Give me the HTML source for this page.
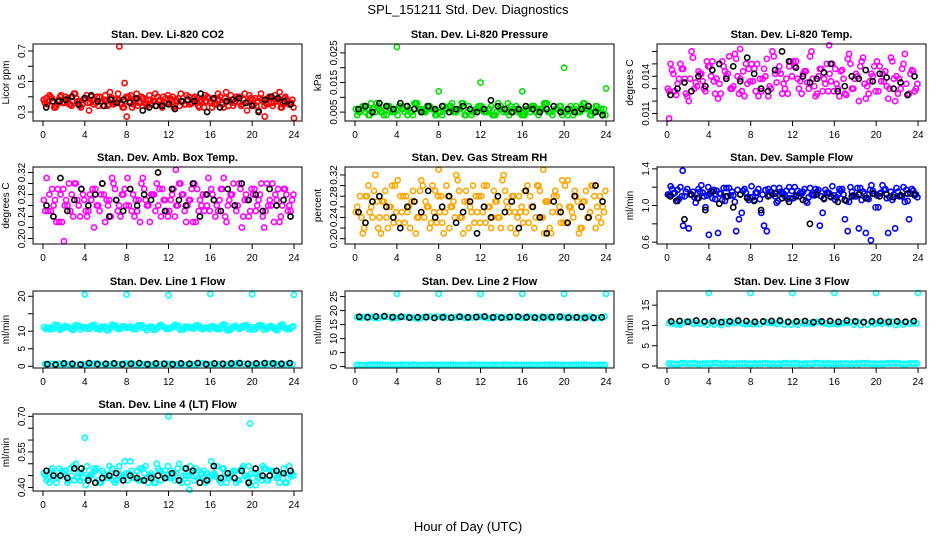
<!DOCTYPE html>
<html><head><meta charset="utf-8"><style>
body{margin:0;background:#fff}
svg{display:block;font-family:"Liberation Sans",sans-serif}
</style></head><body>
<svg id="c" width="936" height="540">
<text x="468" y="14" text-anchor="middle" font-size="13">SPL_151211  Std. Dev. Diagnostics</text>
<text x="468" y="531" text-anchor="middle" font-size="13">Hour of Day (UTC)</text>
</svg>
<script>
// ---- data ----
const xTicks=[0,4,8,12,16,20,24];
const co2Color=[38,35,40,33,37,41,36,39,34,42,37,35,39,31,38,36,40,34,37,43,35,38,36,33,39,41,37,34,40,36,38,35,42,37,33,39,36,40,38,34,37,41,35,39,36,38,33,40,37,35,42,36,39,34,38,37,40,35,36,41,38,34,39,37,35,40,36,38,33,39,37,36];
const co2Black=[33,37,37,38,40,35,39,41,37,34,38,36,38,36,39,31,33,34,34,35,32,37,38,37,42,30,39,33,37,38,39,36,34,30,38,40,39,37,35];
const co2Out=[[7.3,73],[7.8,49],[8,27],[21.2,27],[24,26]];
const presColor=[6,5,7,4,6,8,5,6,7,5,4,6,7,5,8,6,5,7,6,4,5,7,6,8,5,6,4,7,5,6,7,5,6,4,8,6,5,7,6,5,4,6,7,5,6,8,5,4,6,7,5,6,4,5,7,6,4,5,6,4];
const presBlack=[6,7,5,8,7,6,8,7,6,5,7,6,7,5,6,7,6,5,6,9,7,6,5,6,7,6,5,6,7,5,6,5,6,7,5,4];
const presOut=[[4,27],[8,12],[12,15],[16,12],[20,20],[24,13]];
const tempColor=[130,145,125,150,138,120,155,132,142,128,148,136,122,152,140,130,158,126,144,134,150,128,138,146,124,160,135,142,130,148,152,138,126,144,156,132,140,128,150,136,146,124,138,154,130,142,148,134,126,140,152,136,144,130,138,126,146,134,142,128];
const tempBlack=[125,130,135,128,140,132,145,150,138,148,136,155,142,130,128,145,160,152,147,140,135,138,143,150,128,132,140,138,145,136,142,139,130,135,125,140];
const tempOut=[[0.2,106],[15.5,165],[7,162]];
const ambColor=[27,25,29,23,28,26,30,24,27,29,25,28,22,26,30,27,24,29,26,28,31,25,27,23,29,26,28,30,24,27,25,29,26,28,23,27,30,25,28,26,29,24,27,31,26,28,25,29,27,24,28,26,30,25,27,23,29,26,28,25];
const ambBlack=[26,24,31,25,27,29,26,28,30,24,27,25,29,26,28,27,32,25,29,27,26,30,24,28,27,25,29,26,30,27,28,25,29,26,27,24];
const ambOut=[[2,19.5],[12.7,32.5]];
const rhColor=[25,28,22,30,24,27,21,29,26,23,31,25,28,22,27,24,30,26,23,29,25,21,28,26,32,24,27,22,30,25,28,23,26,29,24,31,27,22,25,28,23,30,26,24,29,21,27,25,28,23,30,26,24,27,22,29,25,28,24,26];
const rhBlack=[25,23,27,28,26,24,22,26,27,25,29,24,26,28,23,25,27,21,26,24,28,25,27,22,29,26,24,21,27,25,23,28,26,24,30,27];
const rhOut=[[8,33],[18,33]];
const flowColor=[112,118,105,120,110,75,115,108,122,98,113,117,70,106,119,111,104,85,116,109,121,114,107,78,118,112,103,115,110,120,108,116,113,105,119,111,117,92,114,109,106,118,112,72,115,110,119,113,107,116,111,114,118,109,112,115,110,117,113,111];
const flowBlack=[110,105,85,112,108,95,115,102,110,98,112,108,105,95,110,113,108,104,110,106,80,112,108,110,104,106,110,112,108,113,110,112,109,111,113,112];
const flowOut=[[1.5,138],[19.5,62],[4,68]];
const line1Hi=[11.2,10.6,11.8,10.4,11.5,10.9,11.7,10.5,11.1,11.6,10.7,11.3,10.3,11.9,10.8,11.4,11.0,10.6,11.7,10.9,11.2,10.4,11.5,11.1,10.7,11.8,10.5,11.3,10.9,11.6,10.8,11.0,11.4,10.6,11.7,10.3,11.2,10.9,11.5,10.7,11.1,11.6,10.5,11.3,10.8,11.4,11.0,10.6];
const line1Lo=[0.6,0.5,0.7,0.4,0.6,0.8,0.5,0.6,0.7,0.5,0.4,0.6,0.7,0.5,0.6,0.8,0.5,0.6,0.4,0.7,0.6,0.5,0.7,0.6];
const line1Black=[0.6,0.5,0.8,0.7,0.5,0.9,0.6,0.7,0.8,0.6,0.7,0.9,0.6,0.8,0.7,0.6,0.8,0.7,0.9,0.6,0.8,0.7,0.8,0.9,0.7,0.8,0.9,0.8,0.7,0.9];
const line1Out=[[4,20.5],[8,20.5],[12,20.3],[16,20.7],[20,20.6],[24,20.4]];
const line2Hi=[17.6,17.9,17.3,17.8,17.5,17.7,17.2,17.9,17.6,17.4,17.8,17.5,17.7,17.3,17.6,17.9,17.4,17.7,17.5,17.8,17.3,17.6,17.7,17.4];
const line2Lo=[0.6,0.5,0.7,0.6,0.5,0.6,0.7,0.5,0.6,0.6,0.5,0.7,0.6,0.5,0.6,0.7,0.6,0.5,0.6,0.7,0.5,0.6,0.6,0.5,0.7,0.6,0.5,0.6,0.7,0.6,0.5,0.6];
const line2Black=[17.8,17.6,17.9,18.0,17.7,17.8,17.5,17.6,17.7,17.4,17.6,17.5,17.8,17.6,17.7,17.9,17.6,17.5,17.7,17.8,17.6,17.5,17.6,17.7,17.8,17.5,17.6,17.4,17.5,17.6];
const line2Out=[[4,26],[8,26],[12,26],[16,26],[20,26],[24,26]];
const line3Hi=[10.6,10.2,10.9,10.4,10.7,10.1,10.8,10.5,10.3,10.9,10.6,10.2,10.7,10.4,10.8,10.5,10.3,10.6,10.9,10.2,10.7,10.4,10.6,10.5];
const line3Lo=[0.6,0.5,0.7,0.6,0.5,0.6,0.7,0.5,0.6,0.6,0.5,0.7,0.6,0.5,0.6,0.7,0.6,0.5,0.6,0.7,0.5,0.6,0.6,0.5,0.7,0.6,0.5,0.6,0.7,0.6,0.5,0.6];
const line3Black=[11.0,11.1,10.9,11.2,11.0,11.1,10.8,11.0,11.2,11.1,10.9,11.0,11.1,11.2,10.9,11.0,11.1,10.8,11.0,11.1,10.9,11.2,11.0,10.8,11.0,11.1,10.9,11.0,10.9,11.1];
const line3Out=[[4,18],[8,18],[12,18],[16,18],[20,18],[24,18]];
const line4Color=[46,44,48,42,45,47,43,49,44,46,41,45,48,43,47,44,46,42,49,45,43,47,44,48,46,42,45,50,43,47,44,46,48,42,45,49,43,47,44,46,51,45,43,48,44,46,42,47,45,49,44,46,43,48,45,47,44,46,42,45];
const line4Black=[47,45,45,44,48,48,43,42,44,45,46,43,45,44,43,44,45,44,46,43,48,47,42,43,49,44,46,44,47,42,48,45,45,47,46,47];
const line4Out=[[4,61],[12,70],[19.8,67],[14,39]];

const panels=[
 {id:"co2",title:"Stan. Dev. Li-820 CO2",yl:"Licor ppm",c:0,r:0,lo:0.241,hi:0.746,sc:0.01,ticks:[0.3,0.5,0.7],labs:["0.3","0.5","0.7"],minor:[0.4,0.6],col:"#ff0000",series:[co2Color],black:co2Black,out:co2Out},
 {id:"pressure",title:"Stan. Dev. Li-820 Pressure",yl:"kPa",c:1,r:0,lo:0.002,hi:0.028,sc:0.001,ticks:[0.005,0.015,0.025],labs:["0.005","0.015","0.025"],minor:[0.01,0.02],col:"#00e000",series:[presColor],black:presBlack,out:presOut},
 {id:"temp",title:"Stan. Dev. Li-820 Temp.",yl:"degrees C",c:2,r:0,lo:0.0104,hi:0.0166,sc:0.0001,ticks:[0.011,0.014],labs:["0.011","0.014"],minor:[0.012,0.013,0.015,0.016],col:"#ff00ff",series:[tempColor],black:tempBlack,out:tempOut},
 {id:"ambbox",title:"Stan. Dev. Amb. Box Temp.",yl:"degrees C",c:0,r:1,lo:0.19,hi:0.33,sc:0.01,ticks:[0.20,0.24,0.28,0.32],labs:["0.20","0.24","0.28","0.32"],minor:[0.22,0.26,0.30],col:"#ff00ff",series:[ambColor],black:ambBlack,out:ambOut},
 {id:"rh",title:"Stan. Dev. Gas Stream RH",yl:"percent",c:1,r:1,lo:0.19,hi:0.335,sc:0.01,ticks:[0.20,0.24,0.28,0.32],labs:["0.20","0.24","0.28","0.32"],minor:[0.22,0.26,0.30],col:"#ffa500",series:[rhColor],black:rhBlack,out:rhOut},
 {id:"sampleflow",title:"Stan. Dev. Sample Flow",yl:"ml/min",c:2,r:1,lo:0.58,hi:1.42,sc:0.01,ticks:[0.6,1.0,1.4],labs:["0.6","1.0","1.4"],minor:[0.8,1.2],col:"#0000ff",series:[flowColor],black:flowBlack,out:flowOut},
 {id:"line1",title:"Stan. Dev. Line 1 Flow",yl:"ml/min",c:0,r:2,lo:-0.5,hi:21.5,sc:1,ticks:[0,5,10,20],labs:["0","5","10","20"],minor:[15],col:"#00ffff",series:[line1Hi,line1Lo],black:line1Black,out:line1Out,big:true},
 {id:"line2",title:"Stan. Dev. Line 2 Flow",yl:"ml/min",c:1,r:2,lo:-0.5,hi:27,sc:1,ticks:[0,5,10,15,20,25],labs:["0","5","10","15","20","25"],minor:[],col:"#00ffff",series:[line2Hi,line2Lo],black:line2Black,out:line2Out,big:true},
 {id:"line3",title:"Stan. Dev. Line 3 Flow",yl:"ml/min",c:2,r:2,lo:-0.5,hi:18.5,sc:1,ticks:[0,5,10,15],labs:["0","5","10","15"],minor:[],col:"#00ffff",series:[line3Hi,line3Lo],black:line3Black,out:line3Out,big:true},
 {id:"line4",title:"Stan. Dev. Line 4 (LT) Flow",yl:"ml/min",c:0,r:3,lo:0.385,hi:0.71,sc:0.01,ticks:[0.40,0.55,0.70],labs:["0.40","0.55","0.70"],minor:[0.45,0.50,0.60,0.65],col:"#00ffff",series:[line4Color],black:line4Black,out:line4Out}
];
const NS="http://www.w3.org/2000/svg";
const svg=document.getElementById('c');
const tops=[44,167,291,414];
function mk(tag,at,par){const e=document.createElementNS(NS,tag);for(const k in at)e.setAttribute(k,at[k]);par.appendChild(e);return e;}
panels.forEach(p=>{
 const L=33+312*p.c, T=tops[p.r], W=269, H=77;
 const g=mk('g',{},svg);
 
 
 const xs=h=>L+10+h*251/24;
 const ys=v=>T+H-(v-p.lo)/(p.hi-p.lo)*H;
 const t=mk('text',{x:L+W/2,y:T-6,'text-anchor':'middle','font-size':11,'font-weight':'bold'},g);
 t.textContent=p.title;
 
 
 const yt=mk('text',{transform:`translate(${L-24},${T+H/2}) rotate(-90)`,'text-anchor':'middle','font-size':10},g);
 yt.textContent=p.yl;
 
 
 const pts=mk('g',{fill:'none','stroke-width':1.6},g);
 
 
 const r=2.6;
 // dense cloud: each series plotted in three passes (original, reversed, rotated)
 p.series.forEach(s=>{
  const n=s.length, k3=Math.floor(n/3);
  const passes=[s, s.slice().reverse(), s.slice(k3).concat(s.slice(0,k3))];
  passes.forEach((arr,k)=>{arr.forEach((v,i)=>{
   mk('circle',{cx:xs(Math.min(24,(i+0.2+k*0.33)*24/n)),cy:ys(v*p.sc),r:r,stroke:p.col},pts);});});
 });
 p.out.forEach(o=>{mk('circle',{cx:xs(o[0]),cy:ys(o[1]*p.sc),r:2.6,stroke:p.col},pts);});
 p.black.forEach((v,i)=>{mk('circle',{cx:xs((i+0.5)*24/p.black.length),cy:ys(v*p.sc),r:2.6,stroke:'#000'},pts);});
 mk('rect',{x:L,y:T,width:W,height:H,fill:'none',stroke:'#000','stroke-width':1},g);
 mk('line',{x1:xs(0),x2:xs(24),y1:T+H,y2:T+H,stroke:'#000'},g);
 xTicks.forEach(h=>{mk('line',{x1:xs(h),x2:xs(h),y1:T+H,y2:T+H+5,stroke:'#000'},g);
  const tx=mk('text',{x:xs(h),y:T+H+17,'text-anchor':'middle','font-size':10},g);tx.textContent=h;
  
  });
 const all=p.ticks.concat(p.minor);
 const ymin=Math.min(...all),ymax=Math.max(...all);
 mk('line',{x1:L,x2:L,y1:ys(ymin),y2:ys(ymax),stroke:'#000'},g);
 all.forEach(v=>mk('line',{x1:L-5,x2:L,y1:ys(v),y2:ys(v),stroke:'#000'},g));
 p.ticks.forEach((v,i)=>{const tx=mk('text',{transform:`translate(${L-8},${ys(v)}) rotate(-90)`,'text-anchor':'middle','font-size':10},g);tx.textContent=p.labs[i];
  
  });
});
</script>
</body></html>
